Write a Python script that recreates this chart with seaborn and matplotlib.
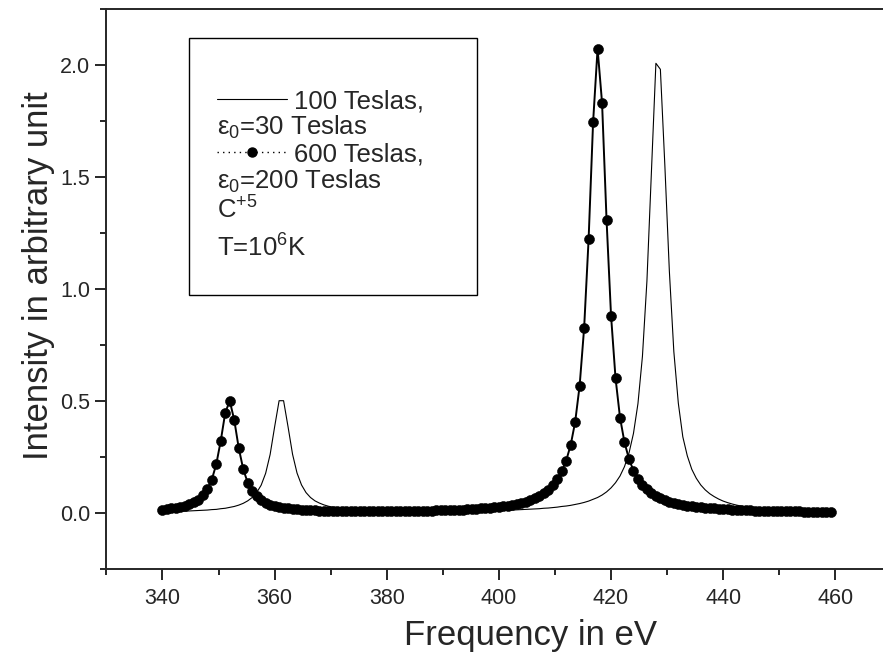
import matplotlib
matplotlib.use("Agg")
import matplotlib.pyplot as plt
from matplotlib.patches import Rectangle
from matplotlib.ticker import MultipleLocator
import pandas as pd
import seaborn as sns

# --- DADOS ---
# Frequências amostradas (eV)
freq_ev = [
    340.0, 340.8, 341.6, 342.4, 343.2, 344.0, 344.8, 345.6, 346.4, 347.2,
    348.0, 348.8, 349.6, 350.4, 351.2, 352.0, 352.8, 353.6, 354.4, 355.2,
    356.0, 356.8, 357.6, 358.4, 359.2, 360.0, 360.8, 361.6, 362.4, 363.2,
    364.0, 364.8, 365.6, 366.4, 367.2, 368.0, 368.8, 369.6, 370.4, 371.2,
    372.0, 372.8, 373.6, 374.4, 375.2, 376.0, 376.8, 377.6, 378.4, 379.2,
    380.0, 380.8, 381.6, 382.4, 383.2, 384.0, 384.8, 385.6, 386.4, 387.2,
    388.0, 388.8, 389.6, 390.4, 391.2, 392.0, 392.8, 393.6, 394.4, 395.2,
    396.0, 396.8, 397.6, 398.4, 399.2, 400.0, 400.8, 401.6, 402.4, 403.2,
    404.0, 404.8, 405.6, 406.4, 407.2, 408.0, 408.8, 409.6, 410.4, 411.2,
    412.0, 412.8, 413.6, 414.4, 415.2, 416.0, 416.8, 417.6, 418.4, 419.2,
    420.0, 420.8, 421.6, 422.4, 423.2, 424.0, 424.8, 425.6, 426.4, 427.2,
    428.0, 428.8, 429.6, 430.4, 431.2, 432.0, 432.8, 433.6, 434.4, 435.2,
    436.0, 436.8, 437.6, 438.4, 439.2, 440.0, 440.8, 441.6, 442.4, 443.2,
    444.0, 444.8, 445.6, 446.4, 447.2, 448.0, 448.8, 449.6, 450.4, 451.2,
    452.0, 452.8, 453.6, 454.4, 455.2, 456.0, 456.8, 457.6, 458.4, 459.2,
]

# 100 Teslas (linha contínua)
intens_100T = [
    0.006, 0.006, 0.007, 0.007, 0.008, 0.008, 0.009, 0.010, 0.011, 0.012,
    0.013, 0.015, 0.016, 0.019, 0.021, 0.025, 0.029, 0.035, 0.043, 0.054,
    0.069, 0.091, 0.124, 0.177, 0.261, 0.384, 0.501, 0.501, 0.384, 0.262,
    0.178, 0.125, 0.091, 0.069, 0.054, 0.044, 0.036, 0.030, 0.026, 0.023,
    0.020, 0.018, 0.016, 0.015, 0.013, 0.012, 0.012, 0.011, 0.010, 0.010,
    0.009, 0.009, 0.009, 0.009, 0.008, 0.008, 0.008, 0.008, 0.008, 0.008,
    0.008, 0.008, 0.008, 0.008, 0.008, 0.008, 0.009, 0.009, 0.009, 0.009,
    0.010, 0.010, 0.010, 0.011, 0.011, 0.012, 0.012, 0.013, 0.013, 0.014,
    0.015, 0.016, 0.017, 0.018, 0.019, 0.021, 0.022, 0.024, 0.026, 0.029,
    0.031, 0.034, 0.038, 0.042, 0.047, 0.053, 0.061, 0.069, 0.080, 0.094,
    0.112, 0.135, 0.165, 0.207, 0.267, 0.355, 0.488, 0.699, 1.035, 1.522,
    2.007, 1.980, 1.550, 1.080, 0.720, 0.490, 0.340, 0.255, 0.195, 0.155,
    0.125, 0.103, 0.086, 0.073, 0.062, 0.053, 0.046, 0.040, 0.035, 0.031,
    0.028, 0.025, 0.023, 0.021, 0.019, 0.018, 0.016, 0.015, 0.014, 0.013,
    0.012, 0.012, 0.011, 0.010, 0.010, 0.009, 0.009, 0.008, 0.008, 0.007,
]

# 600 Teslas (pontos)
intens_600T = [
    0.015, 0.017, 0.020, 0.023, 0.027, 0.032, 0.038, 0.047, 0.060, 0.078,
    0.106, 0.149, 0.218, 0.323, 0.448, 0.500, 0.415, 0.290, 0.196, 0.135,
    0.098, 0.074, 0.057, 0.046, 0.037, 0.031, 0.027, 0.023, 0.020, 0.018,
    0.016, 0.015, 0.014, 0.013, 0.012, 0.011, 0.011, 0.010, 0.010, 0.009,
    0.009, 0.009, 0.009, 0.009, 0.008, 0.008, 0.008, 0.008, 0.008, 0.009,
    0.009, 0.009, 0.009, 0.009, 0.009, 0.009, 0.010, 0.010, 0.010, 0.011,
    0.011, 0.012, 0.012, 0.013, 0.013, 0.014, 0.015, 0.015, 0.016, 0.018,
    0.019, 0.020, 0.022, 0.023, 0.025, 0.028, 0.030, 0.033, 0.036, 0.040,
    0.045, 0.050, 0.057, 0.065, 0.075, 0.088, 0.103, 0.123, 0.150, 0.186,
    0.234, 0.303, 0.406, 0.568, 0.825, 1.222, 1.744, 2.072, 1.830, 1.308,
    0.881, 0.602, 0.426, 0.315, 0.241, 0.189, 0.152, 0.125, 0.105, 0.089,
    0.076, 0.066, 0.058, 0.051, 0.045, 0.041, 0.037, 0.033, 0.030, 0.028,
    0.025, 0.023, 0.021, 0.020, 0.018, 0.017, 0.016, 0.015, 0.014, 0.013,
    0.012, 0.012, 0.011, 0.010, 0.010, 0.009, 0.009, 0.008, 0.008, 0.008,
    0.007, 0.007, 0.007, 0.006, 0.006, 0.006, 0.006, 0.005, 0.005, 0.005,
]

# Textos da caixa de legenda (uma linha por item)
legend_texts = ['100 Teslas,', 'ε$_0$=30 Teslas', '600 Teslas,',
                'ε$_0$=200 Teslas', 'C$^{+5}$', 'T=10$^6$K']


def main():
    sns.set_style("ticks")
    plt.rcParams['font.family'] = ['Liberation Sans', 'DejaVu Sans']
    plt.rcParams['mathtext.fontset'] = 'custom'
    plt.rcParams['mathtext.rm'] = 'Liberation Sans'
    plt.rcParams['mathtext.it'] = 'Liberation Sans:italic'

    df = pd.DataFrame({'freq': freq_ev, 'b100': intens_100T, 'b600': intens_600T})

    fig = plt.figure(figsize=(8.83, 6.54), dpi=100)
    # o eixo vai até 470 eV, cortado na borda direita como no original
    ax = fig.add_axes([0.1205, 0.130, 0.889, 0.8565])

    sns.lineplot(data=df, x='freq', y='b100', ax=ax, color='black', linewidth=0.8)
    sns.lineplot(data=df, x='freq', y='b600', ax=ax, color='black', linewidth=1.4,
                 marker='o', markersize=7.2, markeredgecolor='black', markeredgewidth=0.4)

    ax.set_xlim(330, 470)
    ax.set_ylim(-0.25, 2.25)
    ax.xaxis.set_major_locator(MultipleLocator(20))
    ax.xaxis.set_minor_locator(MultipleLocator(10))
    ax.yaxis.set_major_locator(MultipleLocator(0.5))
    ax.yaxis.set_minor_locator(MultipleLocator(0.25))
    ax.yaxis.set_major_formatter('{x:.1f}')
    ax.tick_params(which='major', direction='out', length=8, width=1.4, labelsize=15.5)
    ax.tick_params(axis='x', which='major', pad=6)
    ax.tick_params(which='minor', direction='out', length=4.5, width=1.4)
    for side in ['left', 'bottom', 'top']:
        ax.spines[side].set_linewidth(1.4)
    ax.spines['right'].set_visible(False)

    ax.set_xlabel('Frequency in eV', fontsize=25, labelpad=7)
    ax.set_ylabel('Intensity in arbitrary unit', fontsize=25, labelpad=4)
    # títulos dos eixos ligeiramente fora do centro, como no original
    ax.xaxis.label.set_x(0.54)
    ax.yaxis.label.set_y(0.523)

    # Caixa de legenda no estilo Origin (texto quebrado em linhas)
    ax.add_patch(Rectangle((0.1053, 0.489), 0.3669, 0.459, transform=ax.transAxes,
                           facecolor='white', edgecolor='black', linewidth=1.0, zorder=5))
    ax.plot([0.1409, 0.2301], [0.839, 0.839], transform=ax.transAxes,
            color='black', linewidth=0.8, zorder=6)
    ax.plot([0.1409, 0.1855, 0.2301], [0.745, 0.745, 0.745], transform=ax.transAxes,
            color='black', linewidth=1.0, linestyle=(0, (1, 3)), marker='o', markevery=[1],
            markersize=6.5, zorder=6)

    text_pos = [(0.239, 0.839), (0.1409, 0.794), (0.239, 0.745),
                (0.1409, 0.698), (0.1409, 0.645), (0.1409, 0.577)]
    for (tx, ty), label in zip(text_pos, legend_texts):
        ax.text(tx, ty, label, transform=ax.transAxes, fontsize=18.5,
                ha='left', va='center_baseline', zorder=7)

    fig.savefig('out.png', dpi=100)


if __name__ == "__main__":
    main()
